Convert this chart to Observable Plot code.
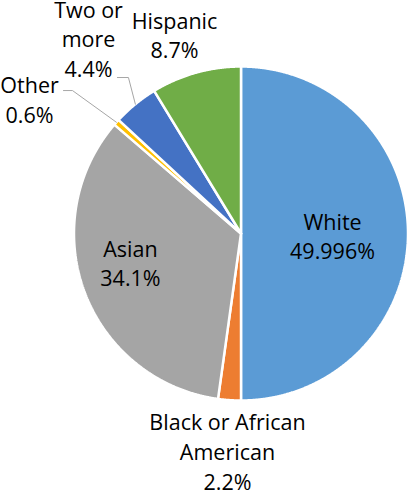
<!DOCTYPE html>
<html><head><meta charset="utf-8">
<script src="https://cdn.jsdelivr.net/npm/d3@7"></script>
<script src="https://cdn.jsdelivr.net/npm/@observablehq/plot@0.6"></script>
<style>html,body{margin:0;padding:0;background:#fff}svg{overflow:visible}</style>
</head><body><div id="chart"></div>
<script>
// ---- data ----
const categories = ["White", "Black or African American", "Asian", "Other", "Two or more", "Hispanic"];
const values = [49.996, 2.2, 34.1, 0.6, 4.4, 8.7];
const labelNames = ["White", "Black or African\nAmerican", "Asian", "Other", "Two or\nmore", "Hispanic"];
const colors = ["#5B9BD5", "#ED7D31", "#A5A5A5", "#FFC000", "#4472C4", "#70AD47"];

// ---- layout (in units of the pie radius, centre = 0,0) ----
const labelLayout = [
  [0.548, -0.010],   // White
  [-0.081, -1.300],  // Black
  [-0.662, -0.170],  // Asian
  [-1.266, 0.810],   // Other
  [-0.913, 1.172],   // Two or more
  [-0.398, 1.195]    // Hispanic
];
const leaderLayout = {
  "Other": [[-1.063, 0.856], [-1.009, 0.856]],
  "Two or more": [[-0.740, 0.934], [-0.674, 0.934]]
};

// ---- geometry ----
const total = d3.sum(values);
let acc = 0;
const slices = categories.map((c, i) => {
  const a0 = acc / total * 2 * Math.PI;
  acc += values[i];
  const a1 = acc / total * 2 * Math.PI;
  return {name: c, a0, a1, mid: (a0 + a1) / 2};
});
const polys = [];
slices.forEach(s => {
  polys.push({name: s.name, x: 0, y: 0});
  const n = Math.max(2, Math.ceil((s.a1 - s.a0) / (Math.PI / 720)));
  for (let k = 0; k <= n; k++) {
    const a = s.a0 + (s.a1 - s.a0) * k / n;
    polys.push({name: s.name, x: Math.sin(a), y: Math.cos(a)});
  }
  polys.push({name: s.name, x: 0, y: 0});
});
const labels = categories.map((c, i) => ({
  name: c,
  text: labelNames[i] + "\n" + values[i] + "%",
  x: labelLayout[i][0],
  y: labelLayout[i][1]
}));
const leaders = [];
slices.forEach(s => {
  const pts = leaderLayout[s.name];
  if (!pts) return;
  pts.forEach(p => leaders.push({name: s.name, x: p[0], y: p[1]}));
  leaders.push({name: s.name, x: Math.sin(s.mid), y: Math.cos(s.mid)});
});

const chart = Plot.plot({
  width: 412,
  height: 492,
  marginLeft: 73.5,
  marginRight: 4.5,
  marginTop: 66,
  marginBottom: 92,
  x: {domain: [-1, 1], axis: null},
  y: {domain: [-1, 1], axis: null},
  color: {domain: categories, range: colors},
  style: {fontFamily: "'Open Sans', sans-serif", background: "#fff", color: "#000", overflow: "visible"},
  marks: [
    Plot.line(polys, {x: "x", y: "y", z: "name", fill: "name", stroke: "#fff", strokeWidth: 2.5, strokeLinejoin: "miter", curve: "linear"}),
    Plot.line(leaders, {x: "x", y: "y", z: "name", stroke: "#A6A6A6", strokeWidth: 1}),
    Plot.text(labels, {x: "x", y: "y", text: "text", fontSize: 21.5, lineHeight: 1.38, fill: "#000", textAnchor: "middle", lineAnchor: "middle"})
  ]
});
document.getElementById("chart").appendChild(chart);
</script>
</body></html>
